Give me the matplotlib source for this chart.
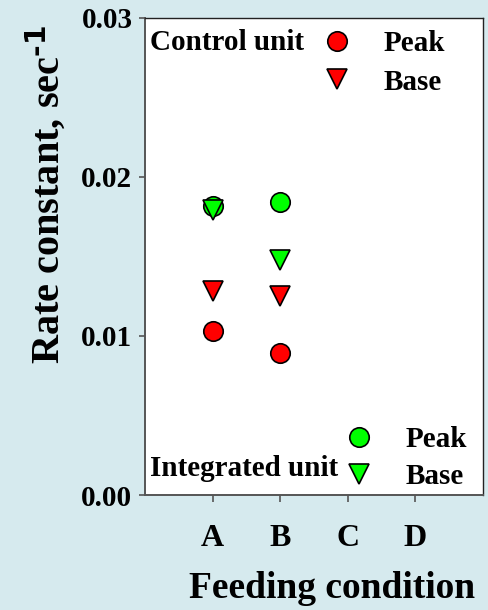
import matplotlib
matplotlib.use("Agg")
import matplotlib.pyplot as plt
from matplotlib.lines import Line2D

plt.rcParams['font.family'] = ['Liberation Serif', 'DejaVu Serif']
plt.rcParams['font.weight'] = 'bold'
plt.rcParams['mathtext.default'] = 'regular'

# Feeding conditions on the x axis
conditions = ["A", "B", "C", "D"]
cond_pos = [1, 2, 3, 4]

# Rate constants (sec^-1) for conditions A and B
control_peak = [0.0103, 0.0089]
control_base = [0.0128, 0.0125]
integrated_peak = [0.0182, 0.0184]
integrated_base = [0.0179, 0.0148]

y_ticks = [0.00, 0.01, 0.02, 0.03]

BG = '#d6eaee'
RED = '#ff0000'
GREEN = '#00ff00'

W, H = 489, 610
fig = plt.figure(figsize=(W / 100, H / 100), dpi=100, facecolor=BG)
ax = fig.add_axes([145 / W, 1 - 495 / H, (483 - 145) / W, (495 - 18) / H])
ax.set_facecolor('white')

ms = 14
mew = 1.2
x_ab = cond_pos[:2]
ax.plot(x_ab, integrated_peak, 'o', ms=ms, mfc=GREEN, mec='black', mew=mew, zorder=3)
ax.plot(x_ab, integrated_base, 'v', ms=ms, mfc=GREEN, mec='black', mew=mew, zorder=4)
ax.plot(x_ab, control_peak, 'o', ms=ms, mfc=RED, mec='black', mew=mew, zorder=3)
ax.plot(x_ab, control_base, 'v', ms=ms, mfc=RED, mec='black', mew=mew, zorder=3)

ax.set_xlim(0, 5)
ax.set_ylim(0, 0.03)
ax.set_xticks(cond_pos)
ax.set_xticklabels(conditions)
ax.set_yticks(y_ticks)
ax.set_yticklabels([f"{v:.2f}" for v in y_ticks])

for side in ('top', 'right'):
    ax.spines[side].set_color('#222222')
    ax.spines[side].set_linewidth(1.0)
for side in ('left', 'bottom'):
    ax.spines[side].set_color('#555555')
    ax.spines[side].set_linewidth(1.4)

ax.tick_params(axis='y', length=4, width=1.2, color='#555555', pad=5, labelsize=21)
ax.tick_params(axis='x', length=5, width=1.2, color='#555555', pad=16, labelsize=23)
for lab in ax.get_xticklabels() + ax.get_yticklabels():
    lab.set_fontweight('bold')

fig.text(332 / W, 1 - 588 / H, "Feeding condition", ha='center', va='center',
         fontsize=27, fontweight='bold')
fig.text(46 / W, 1 - 194 / H, r"Rate constant, sec$^{\text{-1}}$", ha='center', va='center',
         rotation=90, fontsize=29, fontweight='bold')

leg_prop = {'size': 21, 'weight': 'bold'}

# Legend for the control unit
ax.text(150 / W, 1 - 43 / H, "Control unit", transform=fig.transFigure,
        ha='left', va='center', fontsize=21, fontweight='bold')
h_cp = Line2D([], [], ls='none', marker='o', ms=ms, mfc=RED, mec='black', mew=mew)
h_cb = Line2D([], [], ls='none', marker='v', ms=ms, mfc=RED, mec='black', mew=mew)
leg1 = ax.legend([h_cp, h_cb], ["Peak", "Base"], loc='upper left',
                 bbox_to_anchor=(322 / W, 1 - 30 / H), bbox_transform=fig.transFigure,
                 frameon=False, handlelength=1.0, handletextpad=1.1, borderpad=0,
                 borderaxespad=0, labelspacing=0.4, prop=leg_prop)
ax.add_artist(leg1)

# Legend for the integrated unit
ax.text(150 / W, 1 - 469 / H, "Integrated unit", transform=fig.transFigure,
        ha='left', va='center', fontsize=21, fontweight='bold')
h_ip = Line2D([], [], ls='none', marker='o', ms=ms, mfc=GREEN, mec='black', mew=mew)
h_ib = Line2D([], [], ls='none', marker='v', ms=ms, mfc=GREEN, mec='black', mew=mew)
leg2 = ax.legend([h_ip, h_ib], ["Peak", "Base"], loc='upper left',
                 bbox_to_anchor=(344 / W, 1 - 426 / H), bbox_transform=fig.transFigure,
                 frameon=False, handlelength=1.0, handletextpad=1.1, borderpad=0,
                 borderaxespad=0, labelspacing=0.35, prop=leg_prop)

fig.savefig("out.png", dpi=100, facecolor=BG)
